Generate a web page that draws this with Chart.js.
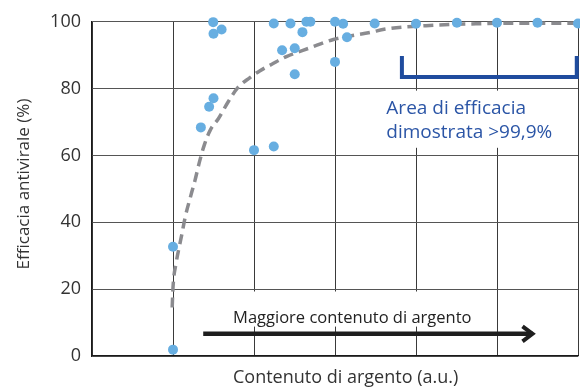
<!DOCTYPE html>
<html>
<head>
<meta charset="utf-8">
<script src="https://cdn.jsdelivr.net/npm/chart.js@4"></script>
<style>
html,body{margin:0;padding:0;background:#fff;}
#wrap{width:580px;height:387px;}
</style>
</head>
<body>
<div id="wrap"><canvas id="c" width="580" height="387"></canvas></div>
<script>
// ---- data ----
const pointX = [1.0, 1.0, 1.344, 1.446, 1.5, 1.5, 1.6, 1.496, 2.0, 2.244, 2.244, 2.347, 2.45, 2.503, 2.503, 2.598, 2.647, 2.696, 3.0, 3.0, 3.1, 3.148, 3.49, 4.0, 4.505, 5.0, 5.5, 6.0];
const pointY = [1.9, 32.7, 68.4, 74.6, 77.1, 96.4, 97.7, 99.9, 61.6, 62.7, 99.5, 91.5, 99.5, 92.1, 84.3, 96.9, 100, 100, 100, 88.0, 99.4, 95.4, 99.5, 99.4, 99.7, 99.7, 99.7, 99.5];
const trendX = [0.99, 1.0, 1.04, 1.08, 1.11, 1.15, 1.22, 1.27, 1.33, 1.39, 1.46, 1.56, 1.68, 1.80, 1.95, 2.07, 2.22, 2.40, 2.69, 2.98, 3.47, 3.59, 4.25, 4.74, 5.3, 6.0];
const trendY = [14.5, 20.5, 28, 33, 36.5, 41.5, 48, 52.4, 58.4, 63.4, 67.6, 71, 76, 80.3, 83.3, 85.3, 87.3, 89.6, 92.2, 94.7, 97.0, 97.7, 99.0, 99.4, 99.6, 99.6];
const bracketX = [3.826, 3.826, 5.985, 5.985];
const bracketY = [89.8, 83.5, 83.5, 89.8];
const yTicks = [0, 20, 40, 60, 80, 100];
const xTitle = 'Contenuto di argento (a.u.)';
const yTitle = 'Efficacia antivirale (%)';
const areaLabel = ['Area di efficacia', 'dimostrata >99,9%'];
const arrowLabel = 'Maggiore contenuto di argento';
const arrowFromX = 1.373, arrowToX = 5.463, arrowY = 6.63;

const FONT = "'Open Sans', sans-serif";

const annotations = {
  id: 'annotations',
  beforeDatasetsDraw(chart) {
    const {ctx, scales: {x, y}} = chart;
    ctx.save();
    // white boxes behind labels
    ctx.fillStyle = '#ffffff';
    ctx.fillRect(x.getPixelForValue(3.62), y.getPixelForValue(79.4), x.getPixelForValue(5.7) - x.getPixelForValue(3.62), y.getPixelForValue(62.3) - y.getPixelForValue(79.4));
    ctx.fillRect(x.getPixelForValue(1.72), y.getPixelForValue(19.3), x.getPixelForValue(4.72) - x.getPixelForValue(1.72), y.getPixelForValue(8.8) - y.getPixelForValue(19.3));
    // area label
    ctx.fillStyle = '#2b55a6';
    ctx.font = '19px ' + FONT;
    ctx.textBaseline = 'alphabetic';
    ctx.textAlign = 'left';
    ctx.fillText(areaLabel[0], x.getPixelForValue(3.634), y.getPixelForValue(72.5));
    ctx.fillText(areaLabel[1], x.getPixelForValue(3.634), y.getPixelForValue(65.1));
    // arrow label
    ctx.fillStyle = '#222222';
    ctx.font = '16.5px ' + FONT;
    ctx.fillText(arrowLabel, x.getPixelForValue(1.742), y.getPixelForValue(9.97));
    // arrow
    const x0 = x.getPixelForValue(arrowFromX), x1 = x.getPixelForValue(arrowToX), ay = y.getPixelForValue(arrowY);
    ctx.strokeStyle = '#1e1e1e';
    ctx.lineWidth = 4.5;
    ctx.lineCap = 'butt';
    ctx.beginPath();
    ctx.moveTo(x0, ay);
    ctx.lineTo(x1 - 2, ay);
    ctx.stroke();
    ctx.lineJoin = 'miter';
    ctx.lineWidth = 4;
    ctx.beginPath();
    ctx.moveTo(x1 - 12, ay - 7.5);
    ctx.lineTo(x1 - 2, ay);
    ctx.lineTo(x1 - 12, ay + 7.5);
    ctx.stroke();
    ctx.restore();
  },
  afterDraw(chart) {
    const {ctx, chartArea} = chart;
    ctx.save();
    ctx.fillStyle = '#333333';
    ctx.font = '18px ' + FONT;
    ctx.textAlign = 'left';
    ctx.textBaseline = 'alphabetic';
    ctx.fillText(xTitle, 233, chartArea.bottom + 27);
    ctx.translate(29, 184);
    ctx.rotate(-Math.PI / 2);
    ctx.textAlign = 'center';
    ctx.font = '17px ' + FONT;
    ctx.fillText(yTitle, 0, 0);
    ctx.restore();
  }
};

const chart = new Chart(document.getElementById('c'), {
  type: 'scatter',
  data: {
    datasets: [
      {
        type: 'line',
        data: bracketX.map((v, i) => ({x: v, y: bracketY[i]})),
        borderColor: '#1f4c9e',
        borderWidth: 4,
        pointRadius: 0,
        fill: false,
        tension: 0,
        clip: false,
        order: 3
      },
      {
        type: 'line',
        data: trendX.map((v, i) => ({x: v, y: trendY[i]})),
        borderColor: '#8b8b8f',
        borderWidth: 3.5,
        borderDash: [10, 6],
        pointRadius: 0,
        fill: false,
        cubicInterpolationMode: 'monotone',
        clip: false,
        order: 2
      },
      {
        data: pointX.map((v, i) => ({x: v, y: pointY[i]})),
        backgroundColor: '#67aee1',
        borderWidth: 0,
        pointRadius: 5,
        pointHoverRadius: 5,
        clip: false,
        order: 1
      }
    ]
  },
  options: {
    responsive: false,
    animation: false,
    events: [],
    layout: {autoPadding: false, padding: {top: 21, right: 2, bottom: 0, left: 0}},
    plugins: {legend: {display: false}, tooltip: {enabled: false}},
    scales: {
      x: {
        type: 'linear', min: 0, max: 6,
        ticks: {display: false, stepSize: 1},
        grid: {color: '#3a3a3a', lineWidth: 1, drawTicks: false},
        border: {color: '#1a1a1a', width: 1.2},
        afterFit(s) { s.height = 31; }
      },
      y: {
        type: 'linear', min: 0, max: 100,
        afterBuildTicks(s) { s.ticks = yTicks.map(v => ({value: v})); },
        ticks: {color: '#333', font: {family: FONT, size: 18}, padding: 11},
        grid: {color: '#555', lineWidth: 1, drawTicks: false},
        border: {color: '#1a1a1a', width: 1.2},
        afterFit(s) { s.width = 92; }
      }
    }
  },
  plugins: [annotations]
});
</script>
</body>
</html>
